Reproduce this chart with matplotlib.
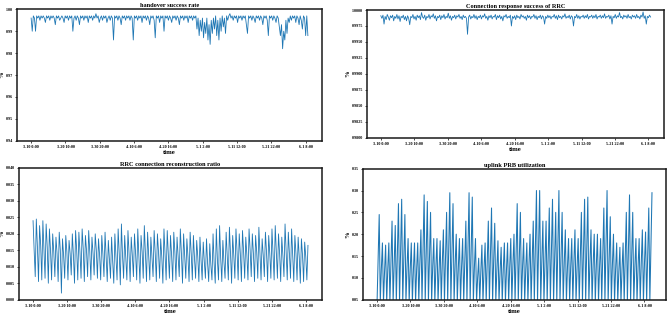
import matplotlib
matplotlib.use("Agg")
import matplotlib.pyplot as plt
import numpy as np

plt.rcParams['font.family'] = ['Liberation Serif', 'DejaVu Serif']
plt.rcParams['font.weight'] = 'bold'

# ---------------- data ----------------
step_hours = 8
tick_hours = [0, 250, 500, 750, 1000, 1250, 1500, 1750, 2000]
tick_labels = ["3-10 0:00", "3-20 10:00", "3-30 20:00", "4-10 6:00", "4-20 16:00",
               "5-1 2:00", "5-11 12:00", "5-21 22:00", "6-1 8:00"]

handover = [
    0.996, 0.990, 0.997, 0.996, 0.990, 0.997, 0.996, 0.997, 0.995, 0.997,
    0.996, 0.997, 0.996, 0.994, 0.997, 0.996, 0.997, 0.995, 0.997, 0.996,
    0.997, 0.996, 0.993, 0.997, 0.996, 0.997, 0.995, 0.996, 0.997, 0.996,
    0.994, 0.997, 0.996, 0.997, 0.995, 0.997, 0.996, 0.997, 0.990, 0.996,
    0.997, 0.995, 0.997, 0.996, 0.993, 0.997, 0.996, 0.997, 0.995, 0.997,
    0.996, 0.997, 0.994, 0.997, 0.996, 0.997, 0.995, 0.997, 0.996, 0.998,
    0.996, 0.997, 0.994, 0.996, 0.997, 0.995, 0.997, 0.996, 0.997, 0.994,
    0.996, 0.997, 0.995, 0.997, 0.996, 0.986, 0.997, 0.996, 0.997, 0.995,
    0.997, 0.996, 0.993, 0.997, 0.996, 0.997, 0.995, 0.997, 0.996, 0.997,
    0.995, 0.997, 0.996, 0.986, 0.997, 0.996, 0.997, 0.995, 0.997, 0.996,
    0.997, 0.994, 0.997, 0.996, 0.997, 0.995, 0.997, 0.996, 0.993, 0.997,
    0.996, 0.997, 0.995, 0.987, 0.997, 0.996, 0.997, 0.994, 0.997, 0.996,
    0.997, 0.990, 0.997, 0.996, 0.997, 0.995, 0.997, 0.996, 0.994, 0.997,
    0.996, 0.997, 0.995, 0.997, 0.996, 0.993, 0.997, 0.996, 0.997, 0.995,
    0.997, 0.996, 0.997, 0.994, 0.997, 0.996, 0.997, 0.995, 0.997, 0.996,
    0.997, 0.991, 0.996, 0.988, 0.995, 0.990, 0.996, 0.987, 0.994, 0.989,
    0.996, 0.986, 0.993, 0.984, 0.995, 0.989, 0.996, 0.991, 0.997, 0.988,
    0.995, 0.986, 0.996, 0.990, 0.997, 0.992, 0.996, 0.989, 0.997, 0.995,
    0.997, 0.998, 0.996, 0.997, 0.995, 0.997, 0.996, 0.997, 0.994, 0.997,
    0.996, 0.997, 0.995, 0.997, 0.996, 0.997, 0.993, 0.989, 0.997, 0.996,
    0.997, 0.995, 0.997, 0.996, 0.994, 0.997, 0.996, 0.997, 0.995, 0.997,
    0.996, 0.993, 0.997, 0.996, 0.997, 0.995, 0.988, 0.997, 0.996, 0.997,
    0.995, 0.997, 0.996, 0.994, 0.997, 0.996, 0.992, 0.988, 0.993, 0.982,
    0.990, 0.986, 0.995, 0.989, 0.996, 0.994, 0.997, 0.995, 0.997, 0.996,
    0.997, 0.994, 0.997, 0.996, 0.993, 0.997, 0.995, 0.991, 0.997, 0.996,
    0.988, 0.997, 0.988,
]

rrc_success = [
    0.9991, 0.9987, 0.9992, 0.9978, 0.9990, 0.9985, 0.9993, 0.9989, 0.9984, 0.9991,
    0.9988, 0.9992, 0.9983, 0.9990, 0.9987, 0.9993, 0.9986, 0.9991, 0.9982, 0.9990,
    0.9988, 0.9992, 0.9985, 0.9990, 0.9983, 0.9991, 0.9987, 0.9977, 0.9990, 0.9988,
    0.9993, 0.9986, 0.9990, 0.9984, 0.9992, 0.9988, 0.9991, 0.9985, 0.9996, 0.9989,
    0.9987, 0.9992, 0.9984, 0.9990, 0.9988, 0.9993, 0.9986, 0.9991, 0.9989, 0.9994,
    0.9987, 0.9991, 0.9983, 0.9990, 0.9988, 0.9992, 0.9985, 0.9991, 0.9988, 0.9993,
    0.9986, 0.9990, 0.9988, 0.9995, 0.9987, 0.9991, 0.9984, 0.9990, 0.9988, 0.9992,
    0.9986, 0.9991, 0.9989, 0.9993, 0.9987, 0.9990, 0.9985, 0.9992, 0.9988, 0.9990,
    0.9987, 0.9962, 0.9989, 0.9992, 0.9986, 0.9990, 0.9988, 0.9993, 0.9987, 0.9991,
    0.9985, 0.9990, 0.9988, 0.9992, 0.9986, 0.9991, 0.9989, 0.9994, 0.9987, 0.9990,
    0.9984, 0.9991, 0.9988, 0.9992, 0.9986, 0.9990, 0.9989, 0.9993, 0.9985, 0.9991,
    0.9988, 0.9992, 0.9986, 0.9990, 0.9983, 0.9991, 0.9989, 0.9993, 0.9987, 0.9990,
    0.9988, 0.9992, 0.9975, 0.9990, 0.9987, 0.9991, 0.9985, 0.9992, 0.9988, 0.9990,
    0.9986, 0.9993, 0.9989, 0.9991, 0.9987, 0.9990, 0.9984, 0.9992, 0.9988, 0.9991,
    0.9986, 0.9990, 0.9989, 0.9993, 0.9987, 0.9991, 0.9985, 0.9990, 0.9988, 0.9992,
    0.9986, 0.9991, 0.9989, 0.9978, 0.9990, 0.9987, 0.9992, 0.9988, 0.9991, 0.9986,
    0.9990, 0.9989, 0.9993, 0.9987, 0.9991, 0.9985, 0.9992, 0.9988, 0.9990, 0.9986,
    0.9991, 0.9989, 0.9994, 0.9987, 0.9990, 0.9988, 0.9992, 0.9986, 0.9991, 0.9989,
    0.9975, 0.9990, 0.9988, 0.9993, 0.9987, 0.9991, 0.9986, 0.9990, 0.9989, 0.9992,
    0.9987, 0.9991, 0.9988, 0.9993, 0.9986, 0.9990, 0.9989, 0.9992, 0.9987, 0.9991,
    0.9988, 0.9993, 0.9986, 0.9990, 0.9989, 0.9992, 0.9987, 0.9991, 0.9988, 0.9994,
    0.9987, 0.9990, 0.9989, 0.9992, 0.9986, 0.9991, 0.9978, 0.9990, 0.9988, 0.9993,
    0.9987, 0.9991, 0.9989, 0.9996, 0.9988, 0.9990, 0.9986, 0.9992, 0.9989, 0.9991,
    0.9987, 0.9993, 0.9988, 0.9990, 0.9986, 0.9992, 0.9989, 0.9991, 0.9987, 0.9993,
    0.9988, 0.9990, 0.9986, 0.9992, 0.9989, 0.9997, 0.9987, 0.9991, 0.9978, 0.9990,
    0.9988, 0.9992, 0.9989,
]

rrc_reconstruction = [
    0.0240, 0.0150, 0.0070, 0.0245, 0.0160, 0.0055, 0.0225, 0.0165, 0.0060,
    0.0240, 0.0155, 0.0065, 0.0230, 0.0160, 0.0050, 0.0215, 0.0150, 0.0060,
    0.0200, 0.0145, 0.0070, 0.0190, 0.0140, 0.0055, 0.0205, 0.0150, 0.0020,
    0.0185, 0.0135, 0.0065, 0.0195, 0.0145, 0.0060, 0.0180, 0.0140, 0.0075,
    0.0200, 0.0135, 0.0050, 0.0210, 0.0150, 0.0060, 0.0205, 0.0145, 0.0065,
    0.0215, 0.0155, 0.0055, 0.0195, 0.0150, 0.0070, 0.0210, 0.0145, 0.0060,
    0.0190, 0.0140, 0.0075, 0.0200, 0.0150, 0.0065, 0.0185, 0.0135, 0.0060,
    0.0195, 0.0140, 0.0070, 0.0205, 0.0130, 0.0055, 0.0180, 0.0125, 0.0065,
    0.0190, 0.0115, 0.0050, 0.0200, 0.0130, 0.0060, 0.0215, 0.0140, 0.0045,
    0.0230, 0.0135, 0.0065, 0.0195, 0.0130, 0.0060, 0.0210, 0.0140, 0.0055,
    0.0190, 0.0135, 0.0070, 0.0200, 0.0140, 0.0060, 0.0215, 0.0135, 0.0050,
    0.0195, 0.0145, 0.0065, 0.0225, 0.0140, 0.0055, 0.0205, 0.0135, 0.0060,
    0.0190, 0.0130, 0.0070, 0.0210, 0.0140, 0.0055, 0.0200, 0.0145, 0.0065,
    0.0185, 0.0130, 0.0050, 0.0215, 0.0140, 0.0060, 0.0210, 0.0140, 0.0065,
    0.0195, 0.0135, 0.0055, 0.0205, 0.0145, 0.0060, 0.0190, 0.0130, 0.0070,
    0.0215, 0.0140, 0.0050, 0.0200, 0.0135, 0.0065, 0.0185, 0.0130, 0.0055,
    0.0205, 0.0140, 0.0060, 0.0195, 0.0125, 0.0065, 0.0180, 0.0130, 0.0055,
    0.0190, 0.0120, 0.0060, 0.0175, 0.0115, 0.0065, 0.0185, 0.0110, 0.0055,
    0.0170, 0.0105, 0.0060, 0.0200, 0.0110, 0.0050, 0.0215, 0.0120, 0.0060,
    0.0225, 0.0125, 0.0055, 0.0180, 0.0115, 0.0065, 0.0205, 0.0130, 0.0060,
    0.0220, 0.0140, 0.0050, 0.0195, 0.0135, 0.0065, 0.0215, 0.0145, 0.0060,
    0.0200, 0.0140, 0.0055, 0.0210, 0.0145, 0.0065, 0.0190, 0.0135, 0.0060,
    0.0215, 0.0150, 0.0070, 0.0200, 0.0140, 0.0055, 0.0195, 0.0145, 0.0065,
    0.0220, 0.0140, 0.0060, 0.0185, 0.0135, 0.0070, 0.0205, 0.0145, 0.0055,
    0.0195, 0.0140, 0.0065, 0.0215, 0.0135, 0.0060, 0.0225, 0.0145, 0.0065,
    0.0200, 0.0140, 0.0055, 0.0190, 0.0135, 0.0070, 0.0230, 0.0145, 0.0060,
    0.0205, 0.0140, 0.0065, 0.0215, 0.0135, 0.0055, 0.0195, 0.0140, 0.0060,
    0.0190, 0.0130, 0.0050, 0.0185, 0.0135, 0.0055, 0.0175, 0.0130, 0.0060,
    0.0165,
]

prb_util = [
    0.045, 0.150, 0.245,  0.045, 0.120, 0.180,  0.045, 0.115, 0.175,  0.045, 0.120, 0.180,
    0.045, 0.140, 0.230,  0.045, 0.135, 0.220,  0.045, 0.160, 0.270,  0.045, 0.165, 0.280,
    0.045, 0.150, 0.245,  0.045, 0.125, 0.190,  0.045, 0.120, 0.180,  0.045, 0.120, 0.180,
    0.045, 0.120, 0.180,  0.045, 0.135, 0.210,  0.045, 0.170, 0.290,  0.045, 0.165, 0.275,
    0.045, 0.150, 0.250,  0.045, 0.125, 0.190,  0.045, 0.125, 0.190,  0.045, 0.120, 0.185,
    0.045, 0.135, 0.210,  0.045, 0.150, 0.250,  0.045, 0.170, 0.295,  0.045, 0.160, 0.270,
    0.045, 0.130, 0.200,  0.045, 0.125, 0.190,  0.045, 0.125, 0.190,  0.045, 0.140, 0.230,
    0.045, 0.170, 0.295,  0.045, 0.165, 0.285,  0.045, 0.125, 0.190,  0.045, 0.100, 0.145,
    0.045, 0.115, 0.175,  0.045, 0.120, 0.180,  0.045, 0.140, 0.230,  0.045, 0.155, 0.260,
    0.045, 0.140, 0.225,  0.045, 0.120, 0.185,  0.045, 0.115, 0.170,  0.045, 0.120, 0.180,
    0.045, 0.120, 0.180,  0.045, 0.125, 0.190,  0.045, 0.130, 0.200,  0.045, 0.160, 0.270,
    0.045, 0.150, 0.250,  0.045, 0.125, 0.190,  0.045, 0.120, 0.180,  0.045, 0.130, 0.200,
    0.045, 0.140, 0.230,  0.045, 0.175, 0.300,  0.045, 0.175, 0.300,  0.045, 0.140, 0.230,
    0.045, 0.140, 0.230,  0.045, 0.155, 0.260,  0.045, 0.165, 0.280,  0.045, 0.150, 0.250,
    0.045, 0.175, 0.300,  0.045, 0.150, 0.250,  0.045, 0.135, 0.210,  0.045, 0.125, 0.190,
    0.045, 0.125, 0.190,  0.045, 0.135, 0.210,  0.045, 0.125, 0.190,  0.045, 0.150, 0.250,
    0.045, 0.165, 0.280,  0.045, 0.165, 0.285,  0.045, 0.135, 0.210,  0.045, 0.130, 0.200,
    0.045, 0.130, 0.200,  0.045, 0.125, 0.190,  0.045, 0.155, 0.260,  0.045, 0.175, 0.300,
    0.045, 0.145, 0.240,  0.045, 0.130, 0.200,  0.045, 0.120, 0.180,  0.045, 0.115, 0.170,
    0.045, 0.120, 0.180,  0.045, 0.150, 0.250,  0.045, 0.170, 0.290,  0.045, 0.150, 0.250,
    0.045, 0.125, 0.190,  0.045, 0.125, 0.190,  0.045, 0.135, 0.210,  0.045, 0.135, 0.205,
    0.045, 0.155, 0.260,  0.045, 0.170, 0.295,
]

# ---------------- plotting ----------------
fig = plt.figure(figsize=(6.68, 3.16), dpi=100)
fig.patch.set_facecolor('white')

panels = [
    dict(rect=[0.0259, 0.5547, 0.4557, 0.4158], data=handover, lw=0.6,
         title="handover success rate", ylim=(0.94, 1.00),
         yticks=[0.94, 0.95, 0.96, 0.97, 0.98, 0.99, 1.00], fmt="{:.2f}"),
    dict(rect=[0.5499, 0.5642, 0.4442, 0.4041], data=rrc_success, lw=0.6,
         title="Connection response success of RRC", ylim=(0.98, 1.0),
         yticks=[0.98, 0.9825, 0.985, 0.9875, 0.99, 0.9925, 0.995, 0.9975, 1.0], fmt="{:.4f}"),
    dict(rect=[0.0289, 0.0516, 0.4527, 0.4168], data=rrc_reconstruction, lw=0.6,
         title="RRC connection reconstruction ratio", ylim=(0.0, 0.04),
         yticks=[0.0, 0.005, 0.01, 0.015, 0.02, 0.025, 0.03, 0.035, 0.04], fmt="{:.3f}"),
    dict(rect=[0.5439, 0.0516, 0.4527, 0.4146], data=prb_util, lw=0.75,
         title="uplink PRB utilization", ylim=(0.05, 0.35),
         yticks=[0.05, 0.10, 0.15, 0.20, 0.25, 0.30, 0.35], fmt="{:.2f}"),
]

for p in panels:
    ax = fig.add_axes(p['rect'])
    y = np.array(p['data'])
    x = np.arange(len(y)) * step_hours
    ax.plot(x, y, color='#1f77b4', lw=p['lw'])
    ax.set_ylim(*p['ylim'])
    ax.set_yticks(p['yticks'])
    ax.set_yticklabels([p['fmt'].format(v) for v in p['yticks']])
    ax.set_xticks(tick_hours)
    ax.set_xticklabels(tick_labels)
    ax.tick_params(labelsize=3, length=1.5, width=0.5, pad=1.5)
    for lab in ax.get_xticklabels() + ax.get_yticklabels():
        lab.set_fontweight('bold')
    for s in ax.spines.values():
        s.set_linewidth(1.1)
        s.set_color('#1a1a1a')
    ax.set_title(p['title'], fontsize=4.6, fontweight='bold', pad=1.5)
    ax.set_xlabel("time", fontsize=4.8, fontweight='bold', labelpad=1)
    ax.set_ylabel("%", fontsize=4.8, fontweight='bold', labelpad=1)

fig.savefig("out.png", dpi=100, facecolor='white')
